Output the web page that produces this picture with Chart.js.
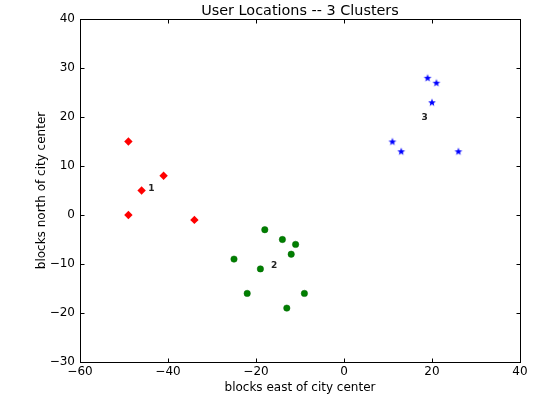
<!DOCTYPE html>
<html>
<head>
<meta charset="utf-8">
<script src="https://cdn.jsdelivr.net/npm/chart.js@4"></script>
<style>
  html, body { margin: 0; padding: 0; background: #fff; }
  #wrap { width: 554px; height: 398px; }
</style>
</head>
<body>
<div id="wrap"><canvas id="clusterChart" width="554" height="398"></canvas></div>
<script>
// cluster 1 (red diamonds)
const redX = [-49, -41, -46, -49, -34];
const redY = [15, 8, 5, 0, -1];
// cluster 2 (green circles)
const greenX = [-18, -14, -11, -12, -25, -19, -22, -9, -13];
const greenY = [-3, -5, -6, -8, -9, -11, -16, -16, -19];
// cluster 3 (blue stars)
const blueX = [19, 21, 20, 11, 13, 26];
const blueY = [28, 27, 23, 15, 13, 13];
const centerNames = ['1', '2', '3'];
const centerX = [-43.8, -15.9, 18.3];
const centerY = [5.4, -10.3, 19.8];

const xTicks = [-60, -40, -20, 0, 20, 40];
const yTicks = [-30, -20, -10, 0, 10, 20, 30, 40];

const TITLE = 'User Locations -- 3 Clusters';
const FONT = "'DejaVu Sans', sans-serif";

function points(xs, ys) {
    return xs.map((x, i) => ({ x: x, y: ys[i] }));
}

// filled five point star, like matplotlib's '*'
function starImage(color) {
    const c = document.createElement('canvas');
    c.width = 10; c.height = 10;
    const g = c.getContext('2d');
    g.fillStyle = color;
    g.beginPath();
    for (let i = 0; i < 10; i++) {
        const r = i % 2 === 0 ? 4.1 : 1.7;
        const a = -Math.PI / 2 + i * Math.PI / 5;
        const px = 5 + r * Math.cos(a), py = 5.4 + r * Math.sin(a);
        if (i === 0) g.moveTo(px, py); else g.lineTo(px, py);
    }
    g.closePath();
    g.fill();
    return c;
}

const minus = v => String(v).replace('-', '\u2212');

// frame with inward ticks on all four sides, title over the axes, cluster numbers
const framePlugin = {
    id: 'frame',
    afterDraw(chart) {
        const { ctx, chartArea: a, scales } = chart;
        const L = Math.round(a.left) + 0.5, R = Math.round(a.right) + 0.5;
        const T = Math.round(a.top) + 0.5, B = Math.round(a.bottom) + 0.5;
        const len = 4;
        ctx.save();
        ctx.strokeStyle = '#000';
        ctx.lineWidth = 1;
        ctx.beginPath();
        scales.x.ticks.forEach(t => {
            const px = Math.round(scales.x.getPixelForValue(t.value)) + 0.5;
            ctx.moveTo(px, B); ctx.lineTo(px, B - len);
            ctx.moveTo(px, T); ctx.lineTo(px, T + len);
        });
        scales.y.ticks.forEach(t => {
            const py = Math.round(scales.y.getPixelForValue(t.value)) + 0.5;
            ctx.moveTo(L, py); ctx.lineTo(L + len, py);
            ctx.moveTo(R, py); ctx.lineTo(R - len, py);
        });
        ctx.stroke();
        ctx.strokeRect(L, T, R - L, B - T);

        ctx.fillStyle = '#000';
        ctx.font = '14.4px ' + FONT;
        ctx.textAlign = 'center';
        ctx.textBaseline = 'alphabetic';
        ctx.fillText(TITLE, (a.left + a.right) / 2, a.top - 4);

        ctx.fillStyle = '#222';
        ctx.font = 'bold 9px ' + FONT;
        ctx.textBaseline = 'middle';
        centerNames.forEach((n, i) => {
            ctx.fillText(n, scales.x.getPixelForValue(centerX[i]),
                scales.y.getPixelForValue(centerY[i]));
        });
        ctx.restore();
    }
};

const ctx = document.getElementById('clusterChart').getContext('2d');

new Chart(ctx, {
    type: 'scatter',
    data: {
        datasets: [
            {
                data: points(redX, redY),
                pointStyle: 'rectRot',
                pointRadius: 4.2,
                backgroundColor: '#ff0000',
                borderColor: '#ff0000',
                borderWidth: 0,
            },
            {
                data: points(greenX, greenY),
                pointStyle: 'circle',
                pointRadius: 3.2,
                backgroundColor: '#007f00',
                borderColor: '#006600',
                borderWidth: 0.5,
            },
            {
                data: points(blueX, blueY),
                pointStyle: starImage('#0000ff'),
                pointRadius: 5,
                backgroundColor: '#0000ff',
            },
        ],
    },
    options: {
        responsive: false,
        animation: false,
        events: [],
        layout: { padding: { top: 19, left: 0, right: 34, bottom: 0 } },
        plugins: {
            legend: { display: false },
            tooltip: { enabled: false },
            title: { display: false },
        },
        scales: {
            x: {
                type: 'linear',
                min: -60,
                max: 40,
                afterBuildTicks: s => { s.ticks = xTicks.map(v => ({ value: v })); },
                afterFit: s => { s.height = 36; },
                grid: { display: false, drawTicks: false },
                border: { display: false },
                ticks: {
                    padding: 3,
                    color: '#000',
                    font: { family: FONT, size: 12 },
                    callback: minus,
                },
                title: {
                    display: true,
                    text: 'blocks east of city center',
                    color: '#000',
                    font: { family: FONT, size: 12 },
                    padding: { top: 0, bottom: 3 },
                },
            },
            y: {
                type: 'linear',
                min: -30,
                max: 40,
                afterBuildTicks: s => { s.ticks = yTicks.map(v => ({ value: v })); },
                afterFit: s => { s.width = 80; },
                grid: { display: false, drawTicks: false },
                border: { display: false },
                ticks: {
                    padding: 5,
                    color: '#000',
                    font: { family: FONT, size: 12 },
                    callback: minus,
                },
                title: {
                    display: true,
                    text: 'blocks north of city center',
                    color: '#000',
                    font: { family: FONT, size: 12 },
                    padding: { top: 35, bottom: 0 },
                },
            },
        },
    },
    plugins: [framePlugin],
});
</script>
</body>
</html>
